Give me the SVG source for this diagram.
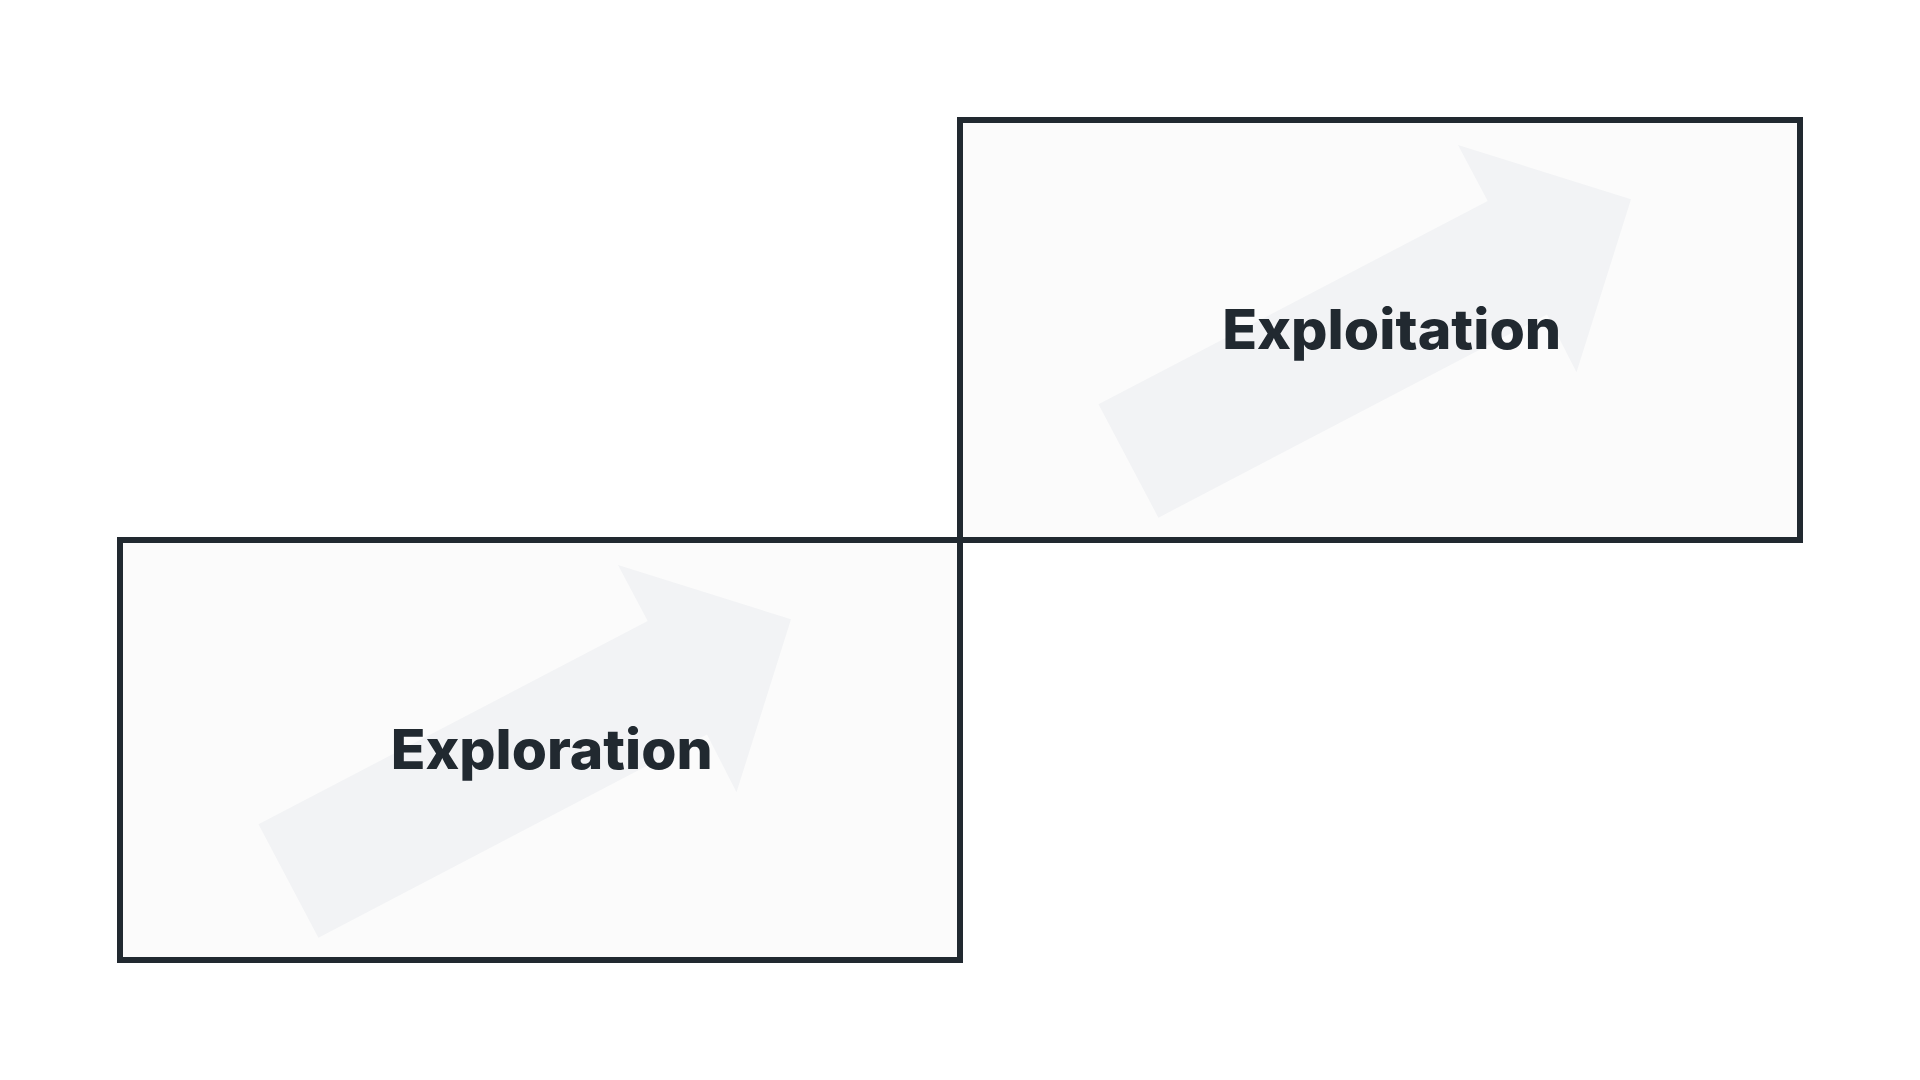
<svg xmlns="http://www.w3.org/2000/svg" width="1920" height="1080" viewBox="0 0 1920 1080">
  <defs>
    <style>
      .box { fill: #fbfbfb; stroke: #212930; stroke-width: 6; }
      .deco { fill: #f2f3f5; }
      .label { font-family: Inter, "Noto Sans", "Liberation Sans", sans-serif; font-weight: 800; font-size: 55px; fill: #212930; text-anchor: middle; }
    </style>
    <polygon id="bgArrow" points="0,0 389.2,-203.3 359.5,-259.3 532.5,-205 478,-32 448.5,-89.9 59.9,113.4"/>
  </defs>
  <rect width="1920" height="1080" fill="#ffffff"/>
  <g id="connectors"/>
  <g id="node-exploration">
    <rect class="box" x="120" y="540" width="840" height="420"/>
    <use href="#bgArrow" class="deco" x="258.5" y="824.3"/>
    <text class="label" x="551.7" y="769" textLength="322" lengthAdjust="spacingAndGlyphs">Exploration</text>
  </g>
  <g id="node-exploitation">
    <rect class="box" x="960" y="120" width="840" height="420"/>
    <use href="#bgArrow" class="deco" x="1098.5" y="404.3"/>
    <text class="label" x="1391.7" y="349" textLength="339" lengthAdjust="spacingAndGlyphs">Exploitation</text>
  </g>
</svg>
